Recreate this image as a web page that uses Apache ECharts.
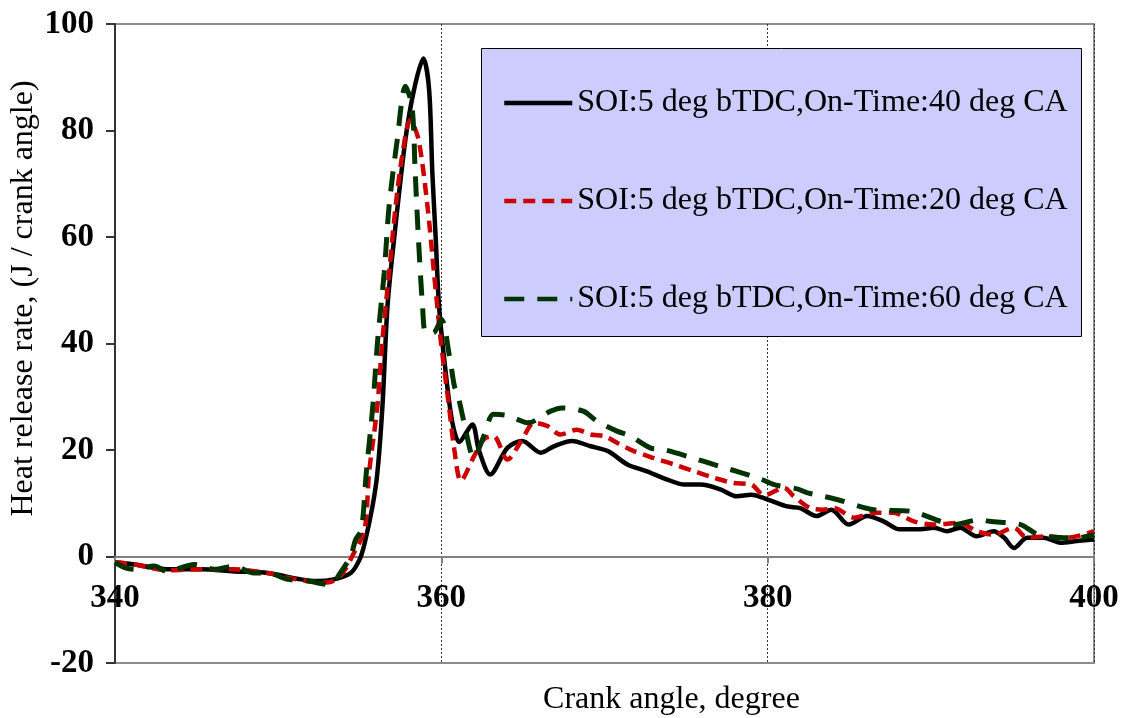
<!DOCTYPE html>
<html>
<head>
<meta charset="utf-8">
<title>Heat release rate vs crank angle</title>
<script src="https://cdn.jsdelivr.net/npm/echarts@6/dist/echarts.min.js"></script>
<style>
  html, body { margin: 0; padding: 0; background: #ffffff; }
  #chart { width: 1126px; height: 718px; }
</style>
</head>
<body>
<div id="chart"></div>
<script>
// Heat release rate traces, SOI 5 deg bTDC, three injection on-times.

const seriesNames = [
  'SOI:5 deg bTDC,On-Time:40 deg CA',
  'SOI:5 deg bTDC,On-Time:20 deg CA',
  'SOI:5 deg bTDC,On-Time:60 deg CA'
];

// On-Time 40 deg CA
const angle40 = [340, 341.2, 343.2, 345.3, 347.3, 349.35, 351.4, 352.4, 353.4, 354.45, 355.0, 355.3, 355.78, 356.08,
  356.39, 356.7, 357.1, 357.8, 358.33, 358.9, 359.25, 359.45, 359.66, 359.86, 360.27, 360.68, 361.1, 361.9, 362.3,
  363.0, 364.05, 364.96, 366.1, 366.9, 368.0, 369.15, 370.2, 371.4, 372.6, 373.8, 374.9, 375.9, 377.1, 378.1, 379.0,
  380.0, 381.2, 382.0, 383.0, 383.9, 384.97, 386.1, 387.1, 388.1, 389.35, 390.2, 391.0, 391.8, 392.8, 393.85, 394.5,
  395.1, 395.9, 396.9, 397.95, 398.95, 400];
const hrr40 = [-1.1, -1.5, -2.4, -2.4, -2.8, -3.1, -4.3, -4.6, -4.3, -3.1, -0.5, 2.5, 9.4, 15.7,
  28.2, 47.0, 59.5, 78.3, 87.7, 93.5, 87.7, 72.0, 59.5, 47.0, 34.5, 25.1, 21.5, 24.8, 20.0,
  15.4, 20.4, 21.7, 19.5, 20.7, 21.7, 20.7, 19.8, 17.3, 16.0, 14.5, 13.5, 13.5, 12.6, 11.3, 11.6,
  10.7, 9.4, 9.1, 7.6, 8.8, 6.0, 7.6, 6.6, 5.1, 5.1, 5.4, 4.75, 5.4, 3.8, 4.75, 3.5,
  1.6, 3.5, 3.5, 2.6, 2.9, 3.2];

// On-Time 20 deg CA
const angle20 = [340, 341.2, 343.2, 345.3, 347.3, 349.35, 350.6, 351.8, 353.0, 353.8, 354.65, 355.3, 355.57, 356.08,
  356.39, 356.8, 357.2, 357.6, 358.1, 358.6, 359.15, 359.55, 359.96, 360.47, 360.8, 361.2, 362.0, 362.6, 363.2,
  364.05, 364.9, 365.7, 366.5, 367.3, 368.3, 369.15, 370.0, 370.8, 371.8, 373.0, 374.25, 375.5, 376.7, 377.9,
  379.0, 379.8, 381.0, 381.6, 382.6, 383.4, 384.05, 385.3, 386.5, 387.7, 388.95, 390.2, 391.8, 392.8, 393.85,
  395.1, 395.9, 397.1, 398.3, 400];
const hrr20 = [-1.1, -1.5, -2.6, -2.4, -2.4, -3.1, -4.0, -4.6, -4.9, -3.7, 0.7, 5.1, 15.7, 28.2,
  40.7, 53.3, 65.8, 75.2, 82.0, 78.3, 65.8, 53.3, 40.7, 28.2, 20.0, 14.2, 18.8, 22.0, 22.6,
  18.2, 21.7, 25.1, 24.5, 22.9, 23.8, 22.9, 22.6, 21.3, 19.8, 18.5, 17.3, 16.0, 14.8, 13.8,
  13.5, 11.5, 12.9, 11.3, 9.1, 8.8, 9.1, 7.3, 8.2, 8.2, 6.6, 6.0, 6.3, 4.75, 4.1,
  5.4, 3.5, 3.8, 3.5, 4.75];

// On-Time 60 deg CA
const angle60 = [340, 340.6, 341.2, 342.4, 343.2, 344.85, 346.1, 347.3, 348.5, 349.35, 350.6, 351.8, 353.2, 353.8,
  354.45, 354.75, 355.1, 355.4, 355.8, 356.1, 356.5, 356.8, 357.3, 357.8, 358.2, 358.4, 358.6, 358.85, 359.05,
  359.5, 360.0, 360.5, 360.8, 361.0, 361.4, 362.0, 362.6, 363.2, 364.0, 364.7, 365.3, 366.7, 367.4, 368.7,
  369.55, 370.8, 371.6, 372.8, 373.6, 375.1, 377.3, 378.1, 379.6, 380.4, 381.8, 382.4, 384.25, 386.5, 388.75,
  390.6, 391.4, 393.0, 393.6, 395.5, 396.5, 397.5, 398.95, 400];
const hrr60 = [-1.1, -2.1, -2.4, -1.8, -2.8, -1.5, -2.4, -1.8, -3.1, -3.1, -4.3, -4.6, -5.3, -3.1,
  0.1, 3.2, 5.0, 15.7, 28.2, 40.7, 53.3, 65.8, 78.3, 88.3, 84.6, 72.0, 59.5, 47.0, 42.0,
  42.0, 44.5, 37.6, 32.0, 30.5, 25.1, 18.5, 22.6, 26.7, 26.5, 25.7, 25.1, 27.3, 27.9, 27.3,
  25.4, 23.5, 22.6, 20.4, 20.1, 18.8, 16.7, 16.0, 14.5, 13.5, 12.7, 12.0, 10.7, 8.8, 8.5,
  6.6, 6.0, 6.9, 6.6, 6.0, 4.2, 3.6, 3.5, 4.1];

const xTicks = { min: 340, max: 400, step: 20 };
const yTicks = { min: -20, max: 100, step: 20 };

const serif = 'Liberation Serif';

function pairs(xs, ys) {
  return xs.map((x, i) => [x, ys[i]]);
}

const chart = echarts.init(document.getElementById('chart'), null, { renderer: 'canvas' });

chart.setOption({
  animation: false,
  backgroundColor: '#ffffff',
  grid: {
    left: 115, top: 24, width: 979, height: 639,
    containLabel: false,
    outerBoundsMode: 'none',
    show: true, borderColor: '#8c8c8c', borderWidth: 2, backgroundColor: 'transparent'
  },
  graphic: [{
    type: 'rect',
    left: 481, top: 48,
    shape: { width: 600, height: 288 },
    style: { fill: '#ccccff', stroke: '#000000', lineWidth: 1 },
    z: 50
  }],
  legend: {
    orient: 'vertical',
    left: 497, top: 82,
    itemWidth: 68, itemHeight: 14,
    itemGap: 66,
    z: 60,
    itemStyle: { opacity: 0 },
    lineStyle: { width: 4.5 },
    textStyle: { fontFamily: serif, fontSize: 32, color: '#000000', lineHeight: 30 },
    data: seriesNames
  },
  xAxis: {
    type: 'value',
    min: xTicks.min, max: xTicks.max, interval: xTicks.step,
    name: 'Crank angle, degree',
    nameLocation: 'middle',
    nameGap: 127,
    nameMoveOverlap: false,
    nameTextStyle: { fontFamily: serif, fontSize: 32, color: '#000000', padding: [0, 0, 0, 134] },
    axisLine: { onZero: false, lineStyle: { color: '#808080', width: 2 } },
    axisTick: { show: true, inside: false, length: 7, lineStyle: { color: '#808080', width: 2 } },
    axisLabel: { fontFamily: serif, fontSize: 33, fontWeight: 'bold', color: '#000000', margin: 25 },
    splitLine: { show: true, lineStyle: { color: '#333333', width: 1, type: [2, 2] } }
  },
  yAxis: {
    type: 'value',
    min: yTicks.min, max: yTicks.max, interval: yTicks.step,
    name: 'Heat release rate, (J / crank angle)',
    nameLocation: 'middle',
    nameRotate: 90,
    nameGap: 75,
    nameMoveOverlap: false,
    nameTextStyle: { fontFamily: serif, fontSize: 32, color: '#000000', padding: [0, 0, 0, 90] },
    axisLine: { show: true, onZero: false, lineStyle: { color: '#333333', width: 2 } },
    axisTick: { show: true, inside: false, length: 9, lineStyle: { color: '#333333', width: 2 } },
    axisLabel: { fontFamily: serif, fontSize: 33, fontWeight: 'bold', color: '#000000', margin: 21 },
    splitLine: { show: false }
  },
  series: [
    {
      name: seriesNames[0],
      type: 'line',
      data: pairs(angle40, hrr40),
      symbol: 'none',
      smooth: 0.3,
      lineStyle: { color: '#000000', width: 4.5, type: 'solid' },
      itemStyle: { color: '#000000' },
      z: 2
    },
    {
      name: seriesNames[1],
      type: 'line',
      data: pairs(angle20, hrr20),
      symbol: 'none',
      smooth: 0.3,
      lineStyle: { color: '#cc0000', width: 4.5, type: [12, 7] },
      itemStyle: { color: '#cc0000' },
      z: 3
    },
    {
      name: seriesNames[2],
      type: 'line',
      data: pairs(angle60, hrr60),
      symbol: 'none',
      smooth: 0.3,
      lineStyle: { color: '#003300', width: 5, type: [20, 13] },
      itemStyle: { color: '#003300' },
      z: 4
    }
  ]
});

// Lift the crank-angle axis (line, ticks, labels, name) up to the zero heat-release level.
const zeroY = chart.convertToPixel({ yAxisIndex: 0 }, 0);
const floorY = chart.convertToPixel({ yAxisIndex: 0 }, yTicks.min);
chart.setOption({ xAxis: { offset: zeroY - floorY } });
</script>
</body>
</html>
